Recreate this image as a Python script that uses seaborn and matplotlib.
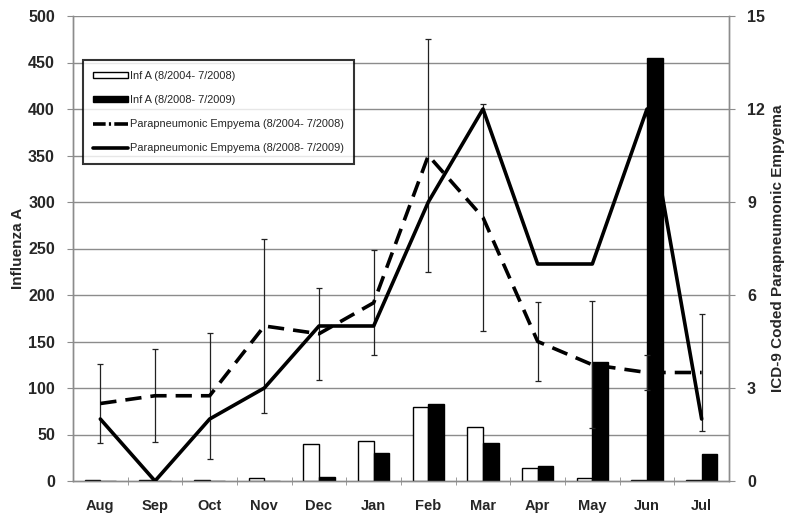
import matplotlib
matplotlib.use("Agg")
import matplotlib.pyplot as plt
from matplotlib.patches import Patch
from matplotlib.lines import Line2D
from matplotlib.ticker import MultipleLocator, FixedLocator
import seaborn as sns
import pandas as pd
import numpy as np

months = ['Aug', 'Sep', 'Oct', 'Nov', 'Dec', 'Jan', 'Feb', 'Mar', 'Apr', 'May', 'Jun', 'Jul']
infa_0408 = [1, 1, 1, 3.5, 40, 43, 80, 58, 14, 3, 1, 1]
infa_0809 = [0, 0, 0, 0, 4.5, 30, 83, 41, 16, 128, 455, 29]
empy_0408 = [2.5, 2.75, 2.75, 5.0, 4.75, 5.75, 10.5, 8.5, 4.5, 3.75, 3.5, 3.5]
empy_0408_err = [1.27, 1.5, 2.03, 2.8, 1.48, 1.7, 3.77, 3.67, 1.27, 2.05, 0.55, 1.9]
empy_0809 = [2, 0, 2, 3, 5, 5, 9, 12, 7, 7, 12, 2]
labels = ['Inf A (8/2004- 7/2008)', 'Inf A (8/2008- 7/2009)',
          'Parapneumonic Empyema (8/2004- 7/2008)', 'Parapneumonic Empyema (8/2008- 7/2009)']

sns.set_style("white")
plt.rcParams['font.family'] = ['Liberation Sans', 'DejaVu Sans']

bars = pd.DataFrame({
    'month': months * 2,
    'value': infa_0408 + infa_0809,
    'series': [labels[0]] * 12 + [labels[1]] * 12,
})

fig = plt.figure(figsize=(7.93, 5.2), dpi=100)
ax = fig.add_axes([73 / 793, 1 - 481 / 520, 656 / 793, 465 / 520])
ax2 = ax.twinx()

grid_c = '#8c8c8c'
ax.set_ylim(0, 500)
ax.yaxis.set_major_locator(MultipleLocator(50))
for v in np.arange(50, 501, 50):
    ax.axhline(v, color=grid_c, lw=1.0, zorder=0)

sns.barplot(data=bars, x='month', y='value', hue='series', order=months,
            palette=['white', 'black'], edgecolor='black', linewidth=1.0,
            width=0.57, gap=0, ax=ax, legend=False, zorder=3)

x = np.arange(len(months))
ax2.set_ylim(0, 15)
ax2.yaxis.set_major_locator(MultipleLocator(3))
ax2.errorbar(x, empy_0408, yerr=empy_0408_err, fmt='none', ecolor='#222222',
             elinewidth=0.9, capsize=2, capthick=0.9, zorder=2)
sns.lineplot(x=x, y=empy_0408, ax=ax2, color='black', lw=2.6, zorder=3)
ax2.lines[-1].set_dashes((4.5, 2.5))
sns.lineplot(x=x, y=empy_0809, ax=ax2, color='black', lw=2.6, zorder=3)
ax.set_xlim(-0.5, 11.5)
ax2.set_xlim(-0.5, 11.5)

# spines
for a in (ax, ax2):
    a.spines['top'].set_visible(False)
    for s in ('left', 'right', 'bottom'):
        a.spines[s].set_color(grid_c)
        a.spines[s].set_linewidth(1.0)
        a.spines[s].set_zorder(1)

ax.set_xticks(x)
ax.set_xticklabels(months)
ax.xaxis.set_minor_locator(FixedLocator(np.arange(0.5, 11.5, 1)))
ax.tick_params(axis='x', which='major', length=0, pad=13, labelsize=10.5)
ax.tick_params(axis='x', which='minor', length=6, direction='inout', color=grid_c, bottom=True)
ax.tick_params(axis='y', which='major', length=4, direction='out', color=grid_c, pad=9,
               labelsize=11.5, left=True)
ax2.tick_params(axis='y', which='major', length=4, direction='out', color=grid_c, pad=9,
                labelsize=11.5, right=True)
for lab in ax.get_yticklabels() + ax2.get_yticklabels() + ax.get_xticklabels():
    lab.set_fontweight('bold')

ax.set_xlabel('')
ax.set_ylabel('Influenza A', fontsize=11, fontweight='bold', labelpad=2)
ax2.set_ylabel('ICD-9 Coded Parapneumonic Empyema', fontsize=11, fontweight='bold', labelpad=4)

handles = [
    Patch(facecolor='white', edgecolor='black', linewidth=1.0),
    Patch(facecolor='black', edgecolor='black', linewidth=1.0),
    Line2D([], [], color='black', lw=2.6, dashes=(3.5, 0.9, 0.6, 0.9, 6, 0)),
    Line2D([], [], color='black', lw=2.6),
]
leg = ax2.legend(handles, labels, loc='upper left', bbox_to_anchor=(0.015, 0.905),
                 fontsize=7.9, frameon=True, fancybox=False, borderpad=0.95,
                 labelspacing=1.3, handlelength=3.2, handleheight=0.5,
                 handletextpad=0.15, borderaxespad=0)
leg.get_frame().set_edgecolor('black')
leg.get_frame().set_linewidth(1.5)

fig.savefig('out.png', dpi=100)
